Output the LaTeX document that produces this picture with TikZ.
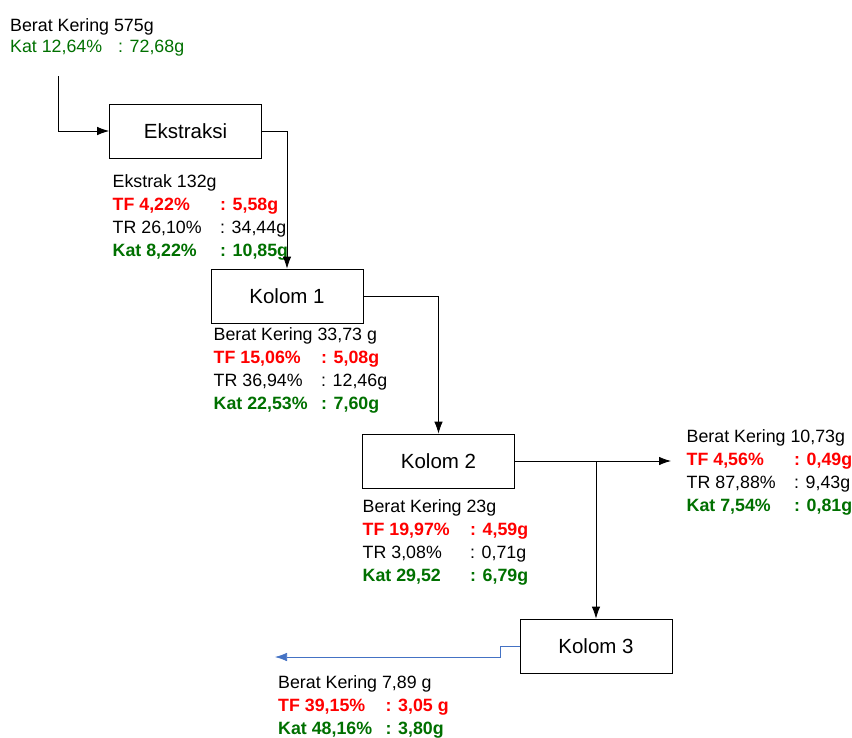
\documentclass[tikz,border=0pt]{standalone}
\usepackage{fontspec}
\usepackage{array}
\setmainfont{Liberation Sans}
\usetikzlibrary{positioning,arrows.meta}
\definecolor{tfred}{RGB}{255,0,0}
\definecolor{katgreen}{RGB}{0,112,0}
\definecolor{lineblue}{RGB}{68,114,196}

\begin{document}
\begin{tikzpicture}[
    x = 1pt,
    y = -1pt,
    every node/.style = {inner sep = 0pt},
    process/.style = {
        draw,
        line width = 0.8pt,
        minimum width = 152pt,
        minimum height = 54pt,
        font = \fontsize{20.5}{24}\selectfont
    },
    data/.style = {
        anchor = base west,
        font = \fontsize{17.8}{23.3}\selectfont
    },
    flow/.style = {
        line width = 0.8pt,
        -{Latex[length = 12pt, width = 8.5pt]}
    }
]
\useasboundingbox (0,0) rectangle (852,737);

% process boxes
\node[process] (ekstraksi) at (185.5,131) {Ekstraksi};
\node[process] (kolom1) at (287,296) {Kolom 1};
\node[process] (kolom2) at (438.5,461) {Kolom 2};
\node[process] (kolom3) at (596,646) {Kolom 3};

% data under each step
\node[data, font = \fontsize{17.8}{21.5}\selectfont] (awal) at (10,31) {%
    \begin{tabular}[t]{@{}w{l}{108pt}@{}l@{}}
    \multicolumn{2}{@{}l@{}}{Berat Kering 575g} \\
    \color{katgreen}Kat 12,64\% & \color{katgreen}: 72,68g
    \end{tabular}};
\node[data] (ekstrak) at (112.5,187) {%
    \begin{tabular}[t]{@{}w{l}{107.5pt}@{}l@{}}
    \multicolumn{2}{@{}l@{}}{Ekstrak 132g} \\
    \color{tfred}\bfseries TF 4,22\% & \color{tfred}\bfseries : 5,58g \\
    TR 26,10\% & : 34,44g \\
    \color{katgreen}\bfseries Kat 8,22\% & \color{katgreen}\bfseries : 10,85g
    \end{tabular}};
\node[data] (hasil1) at (213.5,340) {%
    \begin{tabular}[t]{@{}w{l}{107.5pt}@{}l@{}}
    \multicolumn{2}{@{}l@{}}{Berat Kering 33,73 g} \\
    \color{tfred}\bfseries TF 15,06\% & \color{tfred}\bfseries : 5,08g \\
    TR 36,94\% & : 12,46g \\
    \color{katgreen}\bfseries Kat 22,53\% & \color{katgreen}\bfseries : 7,60g
    \end{tabular}};
\node[data] (hasil2) at (362.5,512) {%
    \begin{tabular}[t]{@{}w{l}{107.5pt}@{}l@{}}
    \multicolumn{2}{@{}l@{}}{Berat Kering 23g} \\
    \color{tfred}\bfseries TF 19,97\% & \color{tfred}\bfseries : 4,59g \\
    TR 3,08\% & : 0,71g \\
    \color{katgreen}\bfseries Kat 29,52 & \color{katgreen}\bfseries : 6,79g
    \end{tabular}};
\node[data] (fraksi) at (686.5,442) {%
    \begin{tabular}[t]{@{}w{l}{107.5pt}@{}l@{}}
    \multicolumn{2}{@{}l@{}}{Berat Kering 10,73g} \\
    \color{tfred}\bfseries TF 4,56\% & \color{tfred}\bfseries : 0,49g \\
    TR 87,88\% & : 9,43g \\
    \color{katgreen}\bfseries Kat 7,54\% & \color{katgreen}\bfseries : 0,81g
    \end{tabular}};
\node[data] (hasil3) at (278,688) {%
    \begin{tabular}[t]{@{}w{l}{107.5pt}@{}l@{}}
    \multicolumn{2}{@{}l@{}}{Berat Kering 7,89 g} \\
    \color{tfred}\bfseries TF 39,15\% & \color{tfred}\bfseries : 3,05 g \\
    \color{katgreen}\bfseries Kat 48,16\% & \color{katgreen}\bfseries : 3,80g
    \end{tabular}};

% connectors
\coordinate (masuk) at (58,76);
\coordinate (keluar2) at (671,461);
\coordinate (keluar3) at (275,657);

\draw[flow] (masuk) |- (ekstraksi.west);
\draw[flow] (ekstraksi.east) -| (kolom1.north);
\draw[flow] (kolom1.east) -| (kolom2.north);
\draw[flow] (kolom2.east) -- (keluar2);
\draw[flow] (kolom3.north |- kolom2.east) -- (kolom3.north);
\draw[flow, lineblue, line width = 0.7pt] (kolom3.west) -- ++(-19.5,0) |- (keluar3);

\end{tikzpicture}
\end{document}
